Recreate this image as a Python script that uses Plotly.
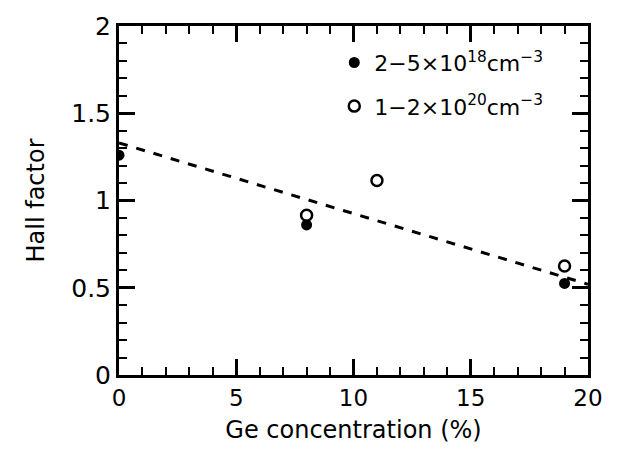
import plotly.graph_objects as go

# Data
ge_low = [0, 8, 19]              # Ge concentration (%) for 2-5e18 cm^-3
hall_low = [1.26, 0.86, 0.525]
ge_high = [8, 11, 19]            # Ge concentration (%) for 1-2e20 cm^-3
hall_high = [0.915, 1.115, 0.625]
fit_x = [0, 20]
fit_y = [1.33, 0.52]

FONT = "DejaVu Sans, Verdana, sans-serif"

fig = go.Figure()
fig.add_trace(go.Scatter(
    x=fit_x, y=fit_y, mode="lines", showlegend=False,
    line=dict(color="black", width=3, dash="dash")))
fig.add_trace(go.Scatter(
    x=ge_low, y=hall_low, mode="markers", legendgroup="a",
    name="2−5×10<sup>18</sup>cm<sup>−3</sup>",
    marker=dict(symbol="circle", size=11, color="black")))
fig.add_trace(go.Scatter(
    x=ge_high, y=hall_high, mode="markers", legendgroup="b",
    name="1−2×10<sup>20</sup>cm<sup>−3</sup>",
    marker=dict(symbol="circle-open", size=11, color="black",
                line=dict(width=2.5, color="black"))))

axis_common = dict(
    showgrid=False, zeroline=False, showline=True, linecolor="black",
    linewidth=3, mirror="ticks", ticks="inside", ticklen=16, tickwidth=2.5,
    tickcolor="black",
)

fig.update_layout(
    width=629, height=460,
    margin=dict(l=119, r=41, t=21, b=85),
    paper_bgcolor="white", plot_bgcolor="white",
    font=dict(family=FONT, color="black"),
    xaxis=dict(range=[0, 20], tickvals=[0, 5, 10, 15, 20],
               tickfont=dict(family=FONT, size=23, color="black"),
               minor=dict(dtick=1, ticks="inside", ticklen=8, tickwidth=2, tickcolor="black"),
               title=dict(text="Ge concentration (%)", font=dict(family=FONT, size=24), standoff=12),
               **axis_common),
    yaxis=dict(range=[0, 2], tickvals=[0, 0.5, 1, 1.5, 2],
               ticktext=["0", "0.5", "1", "1.5", "2"],
               tickfont=dict(family=FONT, size=25, color="black"),
               minor=dict(dtick=0.1, ticks="inside", ticklen=8, tickwidth=2, tickcolor="black"),
               title=dict(text="Hall factor", font=dict(family=FONT, size=24), standoff=20),
               **axis_common),
    legend=dict(x=0.459, y=0.955, xanchor="left", yanchor="top",
                bgcolor="rgba(0,0,0,0)", font=dict(family=FONT, size=22, color="black"),
                itemwidth=30, tracegroupgap=12),
)

fig.write_html("out.html")
